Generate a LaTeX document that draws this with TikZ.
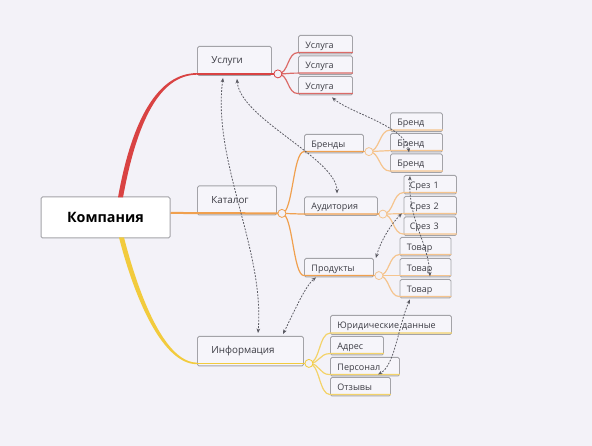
\documentclass[tikz,border=0pt]{standalone}
\usepackage{fontspec}
\setmainfont{Open Sans}
\usetikzlibrary{arrows.meta,calc}
\definecolor{bg}{HTML}{F3F2F8}
\definecolor{boxbg}{HTML}{F6F5FA}
\definecolor{bordc}{HTML}{A3A3A8}
\definecolor{redm}{HTML}{D94343}
\definecolor{redl}{HTML}{DB6B68}
\definecolor{orm}{HTML}{F0A04E}
\definecolor{orl}{HTML}{F5C48E}
\definecolor{yem}{HTML}{F2CB3D}
\definecolor{yel}{HTML}{F3D36A}
\definecolor{txt}{HTML}{3C3C44}
\definecolor{dsh}{HTML}{5A5A62}
\tikzset{
 base/.style={draw=bordc, line width=0.9pt, rounded corners=1.5pt, fill=boxbg, anchor=north west, align=left, text=txt, inner ysep=0pt},
 sbox/.style={base, inner xsep=7pt, minimum height=18.5pt, text height=7.5pt, text depth=0.5pt, font=\fontsize{9}{10}\selectfont},
 mbox/.style={base, inner xsep=14pt, minimum height=29pt, font=\fontsize{9.8}{12}\selectfont},
 rootbox/.style={draw=bordc, line width=1pt, rounded corners=1.5pt, fill=white, font=\fontsize{14.3}{17}\selectfont\bfseries, text=black},
 knot/.style={circle, draw=#1, fill=bg, line width=0.8pt, minimum size=8pt, inner sep=0pt},
 twig/.style={draw=#1, line width=1.2pt},
 link/.style={draw=dsh, line width=0.8pt, dash pattern=on 1.8pt off 1.4pt, {Stealth[length=4.5pt,width=3.6pt]}-{Stealth[length=4.5pt,width=3.6pt]}},
}
\newcommand\twigto[3]{\draw[twig=#1] (#2.center) .. controls ($(#2.center)+(11,0)$) and ($(#3.south west)+(-11,-1.8)$) .. ($(#3.south west)+(0,-1.8)$) -- ($(#3.south east)+(0,-1.8)$);}
\begin{document}
\begin{tikzpicture}[x=1pt,y=-1pt]
\fill[bg] (0,0) rectangle (592,446);
\useasboundingbox (0,0) rectangle (592,446);
% boxes
\node[rootbox, minimum width=129pt, minimum height=41pt] (komp) at (105.5,217.5) {Компания};
\node[mbox, text width=46pt] (usl) at (197,46) {Услуги};
\node[mbox, text width=51pt] (kat) at (197,185.5) {Каталог};
\node[mbox, text width=78pt, minimum height=29.5pt] (inf) at (197,336) {Информация};
\node[sbox, text width=40pt] (u1) at (298,35) {Услуга};
\node[sbox, text width=40pt] (u2) at (298,55.5) {Услуга};
\node[sbox, text width=40pt] (u3) at (298,76) {Услуга};
\node[sbox, text width=45pt] (br) at (304,134) {Бренды};
\node[sbox, text width=59pt] (au) at (304,196.5) {Аудитория};
\node[sbox, text width=55pt] (pr) at (304,258) {Продукты};
\node[sbox, text width=38pt] (b1) at (390,112.5) {Бренд};
\node[sbox, text width=38pt] (b2) at (390,133) {Бренд};
\node[sbox, text width=38pt] (b3) at (390,153.5) {Бренд};
\node[sbox, text width=40.5pt, inner xsep=6pt] (s1) at (403.5,175) {Срез 1};
\node[sbox, text width=40.5pt, inner xsep=6pt] (s2) at (403.5,196) {Срез 2};
\node[sbox, text width=40.5pt, inner xsep=6pt] (s3) at (403.5,216.5) {Срез 3};
\node[sbox, text width=37pt] (t1) at (399.5,237) {Товар};
\node[sbox, text width=37pt] (t2) at (399.5,258) {Товар};
\node[sbox, text width=37pt] (t3) at (399.5,279) {Товар};
\node[sbox, text width=107pt, minimum height=19pt] (ju) at (330,315) {Юридические данные};
\node[sbox, text width=39pt] (ad) at (330,336) {Адрес};
\node[sbox, text width=55pt] (pe) at (330,357) {Персонал};
\node[sbox, text width=46pt] (ot) at (330,377) {Отзывы};
% branch knots (positions)
\coordinate (cu0) at ($(usl.south east)+(6,-2)$);
\coordinate (ck0) at ($(kat.south east)+(5,-2)$);
\coordinate (ci0) at ($(inf.south east)+(5,-3)$);
\coordinate (cb0) at ($(br.south east)+(5,-1.8)$);
\coordinate (ca0) at ($(au.south east)+(5,-1.8)$);
\coordinate (cp0) at ($(pr.south east)+(5,-1.8)$);
% main branches
\fill[redm] ($(komp.north west)+(77.5,1)$) .. controls +(14,-79) and +(-38.5,0) .. ($(usl.south west)+(0,-2.8)$) -- ($(usl.south west)+(0,-1.2)$) .. controls +(-37,0.4) and +(14,-77) .. ($(komp.north west)+(82.5,1)$) -- cycle;
\draw[redm, line width=1.6pt] ($(usl.south west)+(0,-2)$) -- (cu0);
\draw[orm, line width=2pt] ($(komp.north east)+(0,16.45)$) -- (ck0);
\fill[yem] ($(komp.south west)+(78.5,-1)$) .. controls +(16,62.5) and +(-34,0) .. ($(inf.south west)+(0,-2.2)$) -- ($(inf.south west)+(0,-3.8)$) .. controls +(-31,0) and +(16,62.5) .. ($(komp.south west)+(83.5,-1)$) -- cycle;
\draw[yem, line width=1.6pt] ($(inf.south west)+(0,-3)$) -- (ci0);
% children twigs
\twigto{redl}{cu0}{u1}
\twigto{redl}{cu0}{u2}
\twigto{redl}{cu0}{u3}
\twigto{orm}{ck0}{br}
\twigto{orm}{ck0}{au}
\twigto{orm}{ck0}{pr}
\draw[twig=orm] ($(br.south east)+(0,-1.8)$) -- (cb0);
\draw[twig=orm] ($(au.south east)+(0,-1.8)$) -- (ca0);
\draw[twig=orm] ($(pr.south east)+(0,-1.8)$) -- (cp0);
\twigto{orl}{cb0}{b1}
\twigto{orl}{cb0}{b2}
\twigto{orl}{cb0}{b3}
\twigto{orl}{ca0}{s1}
\twigto{orl}{ca0}{s2}
\twigto{orl}{ca0}{s3}
\twigto{orl}{cp0}{t1}
\twigto{orl}{cp0}{t2}
\twigto{orl}{cp0}{t3}
\twigto{yel}{ci0}{ju}
\twigto{yel}{ci0}{ad}
\twigto{yel}{ci0}{pe}
\twigto{yel}{ci0}{ot}
% knots
\node[knot=redm] (cu) at (cu0) {};
\node[knot=orm] (ck) at (ck0) {};
\node[knot=yem] (ci) at (ci0) {};
\node[knot=orl] (cb) at (cb0) {};
\node[knot=orl] (ca) at (ca0) {};
\node[knot=orl] (cp) at (cp0) {};
% dashed relations
\draw[link] ($(usl.south west)+(26,2)$) .. controls +(-11,83) and +(7,-83) .. ($(inf.north west)+(61,-3)$);
\draw[link] ($(usl.south west)+(40,3)$) .. controls +(3,40) and +(0,-35) .. ($(au.north west)+(33,-3)$);
\draw[link] ($(u3.south west)+(34,2)$) .. controls +(18,15.5) and +(-4,-26.5) .. ($(b2.south west)+(19,0)$);
\draw[link] ($(b3.south west)+(20,3)$) .. controls +(-2,45) and +(-2,-35.5) .. ($(t2.south west)+(30.5,-1)$);
\draw[link] ($(s2.south west)+(-1.5,-2)$) .. controls +(-10,9.5) and +(5,-18) .. ($(pr.north east)+(2,0)$);
\draw[link] ($(inf.north west)+(86,-2)$) .. controls +(12,-24) and +(-11,9) .. ($(pr.south west)+(12,0)$);
\draw[link] ($(t3.south west)+(10.5,1)$) .. controls +(-12,27) and +(17,-9) .. ($(pe.south west)+(48,-2)$);
\end{tikzpicture}
\end{document}
